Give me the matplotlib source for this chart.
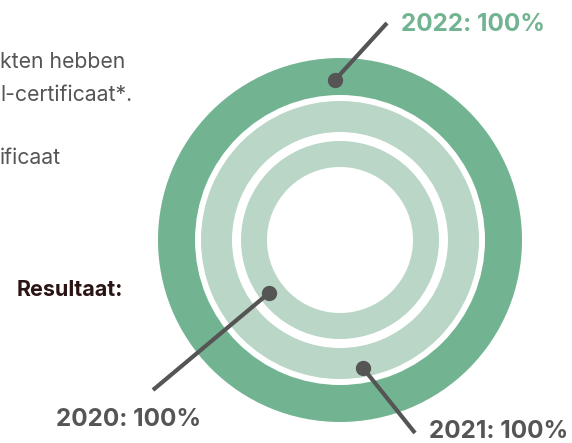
import matplotlib
matplotlib.use("Agg")
import matplotlib.pyplot as plt
from matplotlib.patches import Wedge

# Data
years = ["2022", "2021", "2020"]
values = [100, 100, 100]  # percent
ring_colors = ["#72b492", "#b9d6c7", "#b9d6c7"]
label_colors = ["#72b492", "#555555", "#555555"]
intro_lines = ["kten hebben", "l-certificaat*.", "ificaat"]

W, H = 572, 443
fig = plt.figure(figsize=(W / 100, H / 100), dpi=100)
ax = fig.add_axes([0, 0, 1, 1])
ax.set_xlim(0, W)
ax.set_ylim(H, 0)
ax.set_aspect("equal")
ax.axis("off")

cx, cy = 340, 240
outer_r = [182, 139, 99]
widths = [37, 31, 26]
for v, r, w, c in zip(values, outer_r, widths, ring_colors):
    ax.add_patch(Wedge((cx, cy), r, 90, 90 + 360 * v / 100, width=w,
                       facecolor=c, edgecolor="none"))

# Callouts: dot, line end, label position
dots = [(335, 80), (363, 368), (269, 293)]
ends = [(387, 23), (415, 433), (153, 390)]
label_pos = [(401, 24), (429, 431), (56, 419)]
for yr, v, d, e, lp, lc in zip(years, values, dots, ends, label_pos, label_colors):
    ax.plot([d[0], e[0]], [d[1], e[1]], color="#555555", lw=3, solid_capstyle="butt")
    ax.plot(d[0], d[1], "o", color="#555555", ms=10)
    ax.text(lp[0], lp[1], f"{yr}: {v}%", color=lc, fontsize=17.5, fontweight="bold",
            family="Inter", ha="left", va="center")

# Left text (cropped paragraph)
for txt, y in zip(intro_lines, [62, 95, 158]):
    ax.text(0, y, txt, fontsize=15.3, color="#555555", family="Inter", va="center")
ax.text(17, 290, "Resultaat:", fontsize=15.5, color="#2b1414", fontweight="bold",
        family="Inter", va="center")

fig.savefig("out.png", dpi=100)
